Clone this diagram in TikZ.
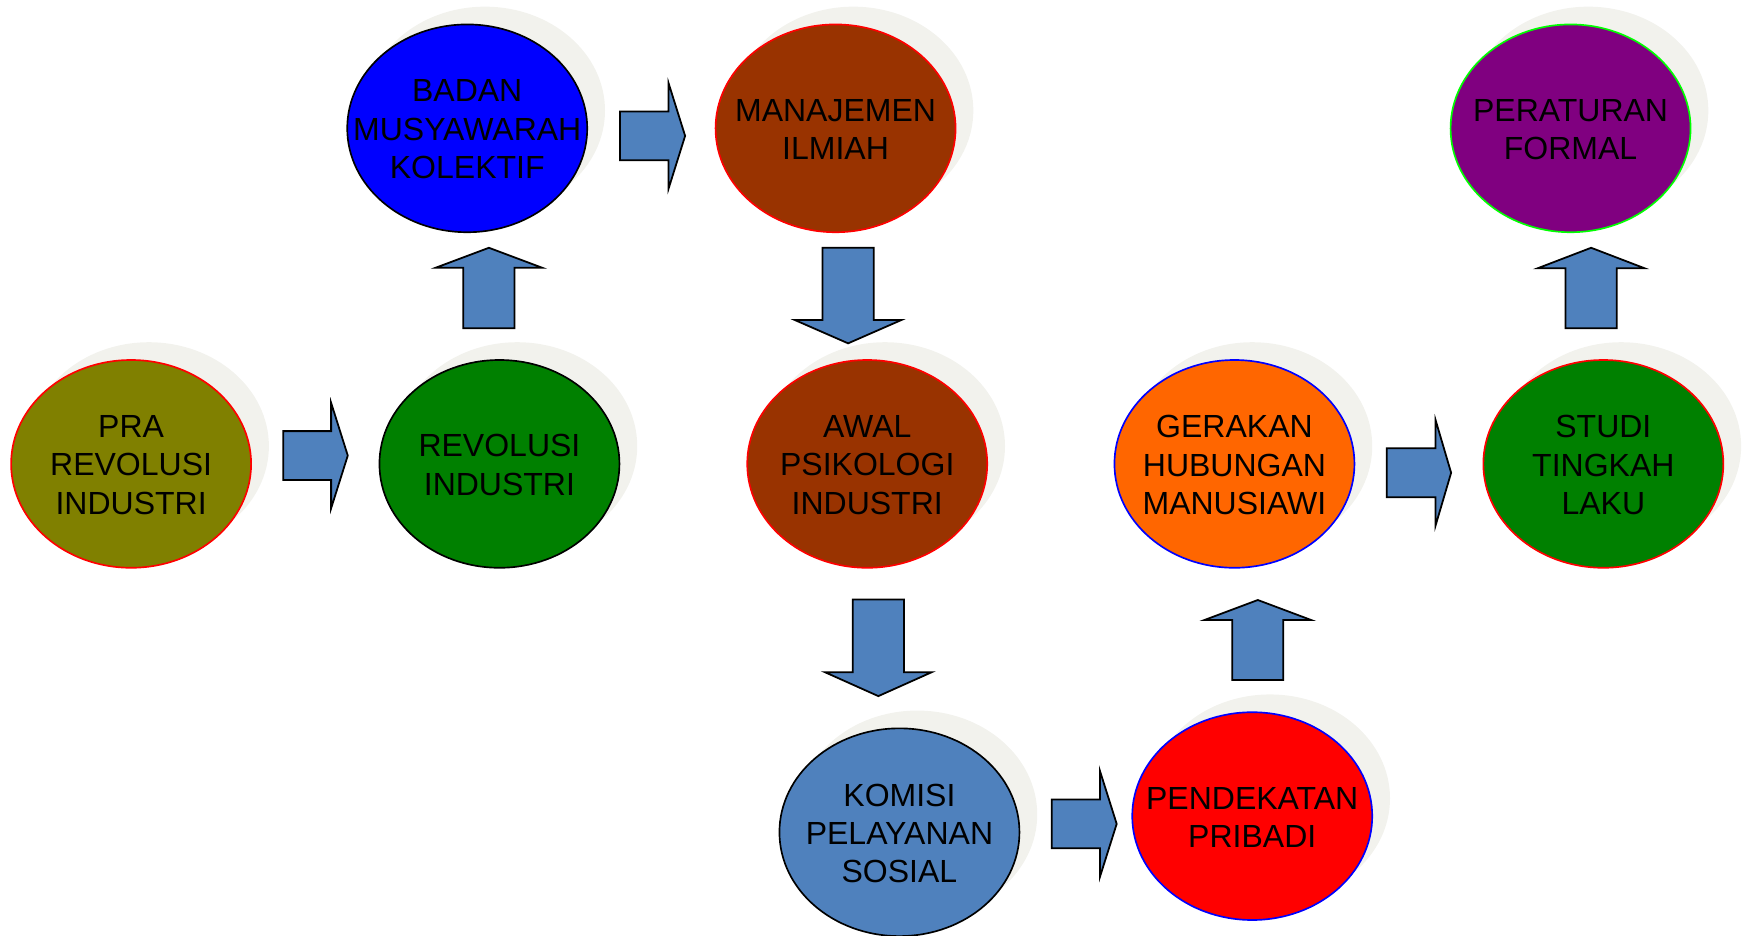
\documentclass[tikz,border=0pt]{standalone}
\usepackage{fontspec}
\setmainfont{Liberation Sans}
\usetikzlibrary{shapes.geometric,shadows}
\definecolor{shadowc}{RGB}{242,242,237}
\definecolor{arrowc}{HTML}{4F81BD}
\definecolor{olivec}{HTML}{808000}
\definecolor{greenc}{HTML}{008000}
\definecolor{brownc}{HTML}{993300}
\definecolor{orangec}{HTML}{FF6600}
\definecolor{purplec}{HTML}{800080}
\definecolor{limec}{HTML}{00FF00}
\newcommand\rarrowdraw[4]{\draw[blockarrow] (#1,#4-22) -- (#2,#4-22) -- (#2,#4-47.5) -- (#3,#4) -- (#2,#4+47.5) -- (#2,#4+22) -- (#1,#4+22) -- cycle;}
\newcommand\uarrowdraw[4]{\draw[blockarrow] (#1-23,#2) -- (#1-23,#3) -- (#1-48,#3) -- (#1,#4) -- (#1+48,#3) -- (#1+23,#3) -- (#1+23,#2) -- cycle;}
\begin{document}
\begin{tikzpicture}[x=1pt,y=-1pt,
  ell/.style={ellipse, minimum width=216pt, minimum height=187pt, inner sep=0pt, line width=1.5pt,
    general shadow={fill=shadowc, shadow xshift=16pt, shadow yshift=16pt}},
  txt/.style={align=center, font=\fontsize{28.8pt}{34.5pt}\selectfont, inner sep=0pt, text=black},
  blockarrow/.style={fill=arrowc, draw=black, line width=1.6pt, line join=miter}]
\useasboundingbox (0,0) rectangle (1567.8,842.4);
% ellipses
\node[ell, fill=olivec, draw=red] (pra) at (118,417.5) {};
\node[ell, fill=greenc, draw=black] (rev) at (449.5,417.5) {};
\node[ell, fill=blue, draw=black] (badan) at (420.5,115.5) {};
\node[ell, fill=brownc, draw=red] (mana) at (752,115.5) {};
\node[ell, fill=brownc, draw=red] (awal) at (780.5,417.5) {};
\node[ell, fill=arrowc, draw=black] (komisi) at (809.5,749) {};
\node[ell, fill=red, draw=blue] (pend) at (1127,734.5) {};
\node[ell, fill=orangec, draw=blue] (gerak) at (1111,417.5) {};
\node[ell, fill=greenc, draw=red] (studi) at (1443,417.5) {};
\node[ell, fill=purplec, draw=limec] (perat) at (1413.5,115.5) {};
% texts
\node[txt] (pra-t) at ([yshift=-1pt]pra.center) {PRA\\REVOLUSI\\INDUSTRI};
\node[txt] (rev-t) at ([yshift=-1pt]rev.center) {REVOLUSI\\INDUSTRI};
\node[txt] (badan-t) at ([yshift=-1pt]badan.center) {BADAN\\MUSYAWARAH\\KOLEKTIF};
\node[txt] (mana-t) at ([yshift=-1pt]mana.center) {MANAJEMEN\\ILMIAH};
\node[txt] (awal-t) at ([yshift=-1pt]awal.center) {AWAL\\PSIKOLOGI\\INDUSTRI};
\node[txt] (komisi-t) at ([yshift=-1pt]komisi.center) {KOMISI\\PELAYANAN\\SOSIAL};
\node[txt] (pend-t) at ([yshift=-1pt]pend.center) {PENDEKATAN\\PRIBADI};
\node[txt] (gerak-t) at ([yshift=-1pt]gerak.center) {GERAKAN\\HUBUNGAN\\MANUSIAWI};
\node[txt] (studi-t) at ([yshift=-1pt]studi.center) {STUDI\\TINGKAH\\LAKU};
\node[txt] (perat-t) at ([yshift=-1pt]perat.center) {PERATURAN\\FORMAL};
% block arrows
\rarrowdraw{255}{298}{313}{410}
\uarrowdraw{440}{295.5}{241}{223}
\rarrowdraw{558}{601.7}{616.6}{122.3}
\uarrowdraw{763.3}{223}{288}{309}
\uarrowdraw{790.5}{539.5}{605}{626.5}
\rarrowdraw{946.6}{990}{1005}{741.5}
\uarrowdraw{1132}{612}{558}{540}
\rarrowdraw{1248}{1292}{1306}{425.5}
\uarrowdraw{1432}{295.5}{241.4}{223}
\end{tikzpicture}
\end{document}
